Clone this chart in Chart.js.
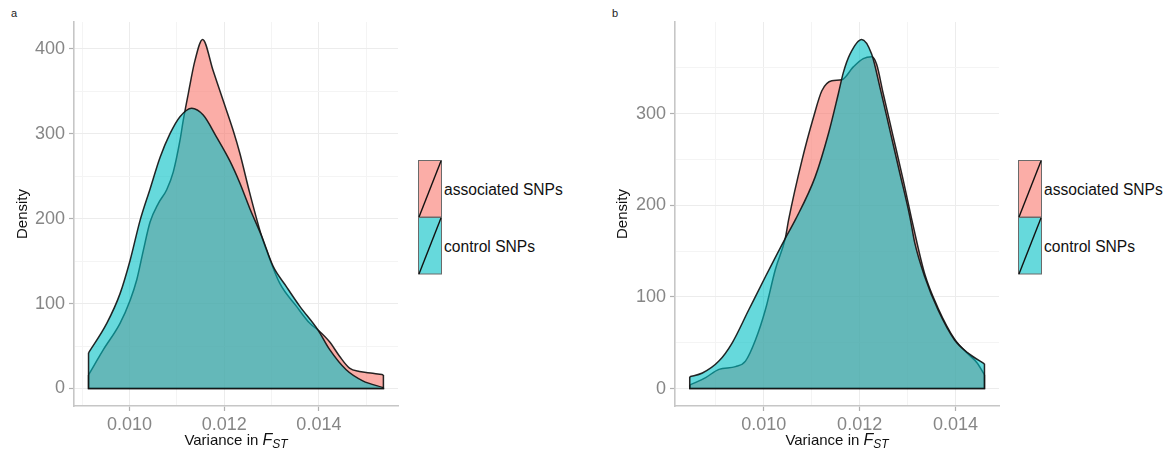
<!DOCTYPE html>
<html>
<head>
<meta charset="utf-8">
<script src="https://cdn.jsdelivr.net/npm/chart.js@4.4.1/dist/chart.umd.min.js"></script>
<style>
  html, body { margin: 0; padding: 0; background: #fff; }
  body { width: 1172px; height: 454px; position: relative; overflow: hidden;
         font-family: "Liberation Sans", Arial, Helvetica, sans-serif; }
  .cv { position: absolute; top: 0; }
  .tag { position: absolute; font-size: 11px; color: #222; }
  .xtitle { position: absolute; top: 430px; font-size: 15px; line-height: 20px; color: #111;
            text-align: center; width: 300px; white-space: nowrap; }
  .xtitle i { font-size: 16px; }
  .xtitle sub { font-size: 12px; font-style: italic; vertical-align: -3px; }
  .legend { position: absolute; top: 160px; }
  .key { position: absolute; left: 0; width: 23px; height: 56px; }
  .lab { position: absolute; font-size: 15.6px; color: #111; white-space: nowrap; line-height: 18px; }
</style>
</head>
<body>
<div class="tag" style="left:11px;top:7px;">a</div>
<div class="tag" style="left:612px;top:7px;">b</div>

<div class="cv" style="left:0px;width:400px;height:440px;"><canvas id="chartA" width="400" height="440"></canvas></div>
<div class="cv" style="left:600px;width:400px;height:440px;"><canvas id="chartB" width="400" height="440"></canvas></div>

<div class="xtitle" style="left:86px;">Variance in <i>F</i><sub>ST</sub></div>
<div class="xtitle" style="left:687px;">Variance in <i>F</i><sub>ST</sub></div>

<div id="legendA" class="legend" style="left:418px;"></div>
<div id="legendB" class="legend" style="left:1018px;"></div>

<script>
// ---------------- DATA ----------------
const seriesNames = ['associated SNPs', 'control SNPs'];
const xTickLabels = [0.010, 0.012, 0.014];
const xMinorTicks = [0.009, 0.011, 0.013, 0.015];
const yTickLabelsA = [0, 100, 200, 300, 400];
const yTickLabelsB = [0, 100, 200, 300];
const yMinorTicks = [50, 150, 250, 350];

// Panel a – associated SNPs
const assocA_x = [0.009137, 0.009453, 0.009804, 0.010015, 0.010155, 0.010295, 0.010436, 0.010611,
  0.010787, 0.010926, 0.011067, 0.011137, 0.011242, 0.011383, 0.011545, 0.011768, 0.011979,
  0.012189, 0.012331, 0.012541, 0.012787, 0.012893, 0.013173, 0.013524, 0.013804, 0.014000,
  0.014225, 0.014436, 0.014646, 0.014857, 0.015137, 0.015362];
const assocA_y = [16, 46, 77, 104, 128, 163, 196, 218,
  234, 255, 292, 316, 347, 386, 411, 374, 339,
  304, 277, 230, 180, 163, 124, 97, 77, 68,
  55, 38, 24, 20, 18, 16];

// Panel a – control SNPs
const ctrlA_x = [0.009137, 0.009524, 0.009804, 0.010015, 0.010225, 0.010436, 0.010646, 0.010857,
  0.011067, 0.011314, 0.011558, 0.011840, 0.012120, 0.012331, 0.012541, 0.012787, 0.013032,
  0.013313, 0.013594, 0.013979, 0.014225, 0.014576, 0.014926, 0.015362];
const ctrlA_y = [42, 77, 112, 151, 198, 235, 272, 300,
  320, 330, 322, 296, 268, 242, 212, 180, 144,
  120, 97, 69, 46, 22, 9, 1];

// Panel b – associated SNPs
const assocB_x = [0.008464, 0.008790, 0.009066, 0.009413, 0.009620, 0.009828, 0.010035, 0.010243,
  0.010450, 0.010519, 0.010797, 0.011038, 0.011212, 0.011420, 0.011627, 0.011868, 0.012076,
  0.012250, 0.012354, 0.012491, 0.012699, 0.012906, 0.013114, 0.013357, 0.013633, 0.013979,
  0.014255, 0.014450, 0.014602];
const assocB_y = [4, 12, 21, 24, 30, 53, 86, 130,
  164, 184, 249, 296, 325, 336, 337, 351, 360,
  362, 354, 322, 275, 228, 178, 125, 88, 54,
  38, 28, 15];

// Panel b – control SNPs
const ctrlB_x = [0.008458, 0.008722, 0.009066, 0.009344, 0.009689, 0.010035, 0.010450, 0.010658,
  0.011073, 0.011349, 0.011557, 0.011661, 0.011799, 0.012043, 0.012250, 0.012422, 0.012630,
  0.012838, 0.013045, 0.013149, 0.013357, 0.013633, 0.013979, 0.014255, 0.014602];
const ctrlB_y = [13, 17, 30, 50, 86, 122, 164, 184,
  231, 278, 322, 345, 365, 381, 365, 329, 282,
  235, 188, 159, 122, 86, 53, 39, 27];

// ---------------- STYLE ----------------
const FILL_ASSOC = 'rgba(248,118,109,0.6)';
const FILL_CTRL = 'rgba(0,191,196,0.6)';
const KEY_ASSOC = 'rgb(251,173,167)';
const KEY_CTRL = 'rgb(102,217,220)';
const OUTLINE = 'rgba(20,20,20,0.92)';
const FONT = '"Liberation Sans", Arial, Helvetica, sans-serif';

function pts(xs, ys) { return xs.map((x, i) => ({ x: x, y: ys[i] })); }
function base(xs, ys) {
  const n = xs.length - 1;
  return [{ x: xs[0], y: ys[0] }, { x: xs[0], y: 0 }, { x: xs[n], y: 0 }, { x: xs[n], y: ys[n] }];
}
function near(v, list, tol) { return list.some(t => Math.abs(v - t) < tol); }

function makeChart(id, a_x, a_y, c_x, c_y, xr, yr, yLabels, yAxisW, padR) {
  const curve = (data, fill, order) => ({
    data: data, fill: 'origin', backgroundColor: fill, borderColor: OUTLINE, borderWidth: 1.5,
    pointRadius: 0, cubicInterpolationMode: 'monotone', order: order
  });
  const edge = (data, order) => ({
    data: data, fill: false, borderColor: OUTLINE, borderWidth: 1.5, pointRadius: 0,
    tension: 0, order: order
  });
  const xAll = xTickLabels.concat(xMinorTicks).filter(v => v >= xr[0] && v <= xr[1]).sort((p, q) => p - q);
  const yAll = yLabels.concat(yMinorTicks).filter(v => v >= yr[0] && v <= yr[1]).sort((p, q) => p - q);
  const gridCol = (list) => (c => near(c.tick.value, list, 1e-7) ? '#ececec' : '#f4f4f4');
  const tickCol = (list) => (c => near(c.tick.value, list, 1e-7) ? '#b0b0b0' : 'rgba(0,0,0,0)');
  return new Chart(document.getElementById(id), {
    type: 'line',
    data: {
      datasets: [
        curve(pts(a_x, a_y), FILL_ASSOC, 4),
        edge(base(a_x, a_y), 3),
        curve(pts(c_x, c_y), FILL_CTRL, 2),
        edge(base(c_x, c_y), 1)
      ]
    },
    options: {
      responsive: false, animation: false, events: [],
      layout: { padding: { top: 22, right: padR, left: 10, bottom: 0 } },
      plugins: { legend: { display: false }, tooltip: { enabled: false } },
      scales: {
        x: {
          type: 'linear', min: xr[0], max: xr[1],
          afterBuildTicks: s => { s.ticks = xAll.map(v => ({ value: v })); },
          afterFit: s => { s.height = 34; },
          border: { display: true, color: '#c6c6c6', width: 1.6 },
          grid: { color: gridCol(xTickLabels), lineWidth: 1, tickColor: tickCol(xTickLabels),
                  tickLength: 5, tickWidth: 1.2 },
          ticks: {
            autoSkip: false, maxRotation: 0,
            padding: 3, color: '#868686', font: { family: FONT, size: 18 },
            callback: v => near(v, xTickLabels, 1e-7) ? v.toFixed(3) : ''
          }
        },
        y: {
          type: 'linear', min: yr[0], max: yr[1],
          afterBuildTicks: s => { s.ticks = yAll.map(v => ({ value: v })); },
          afterFit: s => { s.width = yAxisW; },
          border: { display: true, color: '#c6c6c6', width: 1.6 },
          grid: { color: gridCol(yLabels), lineWidth: 1, tickColor: tickCol(yLabels),
                  tickLength: 5, tickWidth: 1.2 },
          ticks: {
            autoSkip: false,
            padding: 4, color: '#868686', font: { family: FONT, size: 18 },
            callback: v => near(v, yLabels, 1e-7) ? String(v) : ''
          },
          title: {
            display: true, text: 'Density', color: '#111',
            font: { family: FONT, size: 15 }, padding: { top: 4, bottom: 0 }
          }
        }
      }
    }
  });
}

makeChart('chartA', assocA_x, assocA_y, ctrlA_x, ctrlA_y, [0.00883, 0.01567], [-20.6, 431.5], yTickLabelsA, 64, 2);
makeChart('chartB', assocB_x, assocB_y, ctrlB_x, ctrlB_y, [0.008151, 0.014905], [-19, 400], yTickLabelsB, 65, 1);

// ---------------- LEGENDS ----------------
function buildLegend(id) {
  const el = document.getElementById(id);
  const fills = [KEY_ASSOC, KEY_CTRL];
  seriesNames.forEach((name, i) => {
    const top = i * 57;
    const key = document.createElement('div');
    key.className = 'key';
    key.style.top = top + 'px';
    key.innerHTML = '<svg width="24" height="58" xmlns="http://www.w3.org/2000/svg">' +
      '<rect x="0.5" y="0.5" width="23" height="56.5" fill="' + fills[i] + '" stroke="#6a6a6a" stroke-width="1"/>' +
      '<line x1="1" y1="57" x2="23" y2="1" stroke="#111" stroke-width="1.4"/></svg>';
    el.appendChild(key);
    const lab = document.createElement('div');
    lab.className = 'lab';
    lab.style.left = '26px';
    lab.style.top = (top + 21) + 'px';
    lab.textContent = name;
    el.appendChild(lab);
  });
}
buildLegend('legendA');
buildLegend('legendB');
</script>
</body>
</html>
